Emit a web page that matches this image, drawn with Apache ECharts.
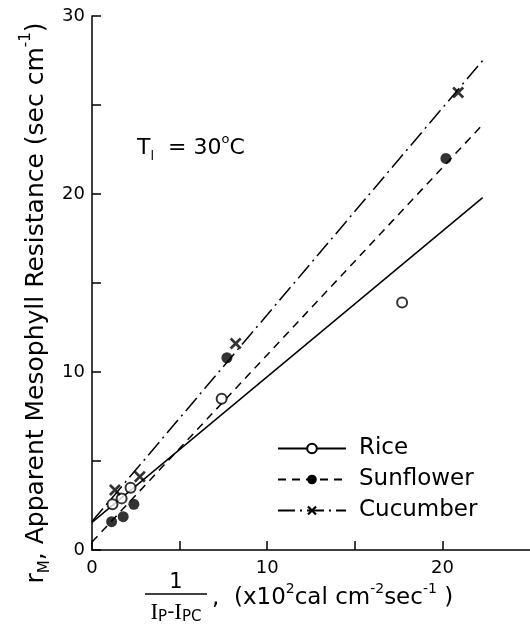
<!DOCTYPE html>
<html><head><meta charset="utf-8">
<script src="https://cdn.jsdelivr.net/npm/echarts@6/dist/echarts.min.js"></script>
<style>html,body{margin:0;padding:0;background:#fff}#c{width:530px;height:629px}</style>
</head><body><div id="c"></div>
<script>
// ---- data ----
const seriesNames = ['Rice', 'Sunflower', 'Cucumber'];
const riceX = [1.17, 1.69, 2.2, 7.4, 17.7];
const riceY = [2.57, 2.9, 3.5, 8.5, 13.9];
const sunX = [1.12, 1.78, 2.39, 7.7, 20.2];
const sunY = [1.59, 1.87, 2.57, 10.8, 22.0];
const cucX = [1.31, 2.73, 8.2, 20.9];
const cucY = [3.37, 4.12, 11.6, 25.7];
// fitted lines: endpoints
const fitX = [0, 22.3];
const riceFitY = [1.55, 19.8];
const sunFitY = [0.45, 23.9];
const cucFitY = [1.6, 27.5];
const xTicks = [0, 5, 10, 15, 20];
const xTickLabels = [0, 10, 20];
const yTicks = [0, 5, 10, 15, 20, 25, 30];
const yTickLabels = [0, 10, 20, 30];

const FONT = 'DejaVu Sans';
const zip = (a, b) => a.map((v, i) => [v, b[i]]);
const crossPath = 'path://M1.6,0L5,3.4L8.4,0L10,1.6L6.6,5L10,8.4L8.4,10L5,6.6L1.6,10L0,8.4L3.4,5L0,1.6Z';

const chart = echarts.init(document.getElementById('c'), null, {renderer: 'canvas'});
const lineBase = (name, data, type, symbol) => ({
  name, type: 'line', data, symbol, symbolSize: 10, showSymbol: false, silent: true,
  lineStyle: {color: '#000', width: 1.5, type}, itemStyle: {color: '#000'}, z: 2
});
const scatterBase = (data, symbol, size) => ({
  type: 'scatter', data, symbol, symbolSize: size, silent: true,
  itemStyle: {color: '#000', borderWidth: 0}, z: 3
});
const option = {
  animation: false,
  backgroundColor: '#fff',
  grid: {left: 92, top: 16, width: 440, height: 534, containLabel: false},
  xAxis: {
    type: 'value', min: 0, max: 25, interval: 5,
    axisLine: {lineStyle: {color: '#000', width: 1.5}},
    axisTick: {inside: true, length: 9, customValues: xTicks, lineStyle: {color: '#000', width: 1.5}},
    splitLine: {show: false},
    axisLabel: {color: '#000', fontSize: 18, fontFamily: FONT, margin: 9, customValues: xTickLabels}
  },
  yAxis: {
    type: 'value', min: 0, max: 30, interval: 5,
    axisLine: {lineStyle: {color: '#000', width: 1.5}},
    axisTick: {inside: true, length: 9, customValues: yTicks, lineStyle: {color: '#000', width: 1.5}},
    splitLine: {show: false},
    axisLabel: {color: '#000', fontSize: 18, fontFamily: FONT, margin: 7, customValues: yTickLabels}
  },
  legend: {
    orient: 'vertical', left: 272, top: 432, itemWidth: 68, itemHeight: 12, itemGap: 8,
    data: seriesNames,
    textStyle: {color: '#000', fontSize: 23, fontFamily: FONT, padding: [0, 0, 0, 8]},
    selectedMode: false
  },
  series: [
    lineBase('Rice', zip(fitX, riceFitY), 'solid', 'emptyCircle'),
    lineBase('Sunflower', zip(fitX, sunFitY), [8, 6], 'circle'),
    lineBase('Cucumber', zip(fitX, cucFitY), [17, 5, 2, 5], crossPath),
    Object.assign(scatterBase(zip(riceX, riceY), 'emptyCircle', 10), {itemStyle: {color: '#000', borderWidth: 2}}),
    scatterBase(zip(sunX, sunY), 'circle', 11),
    scatterBase(zip(cucX, cucY), crossPath, 12)
  ],
  graphic: [
    { type: 'text', x: 36, y: 303, rotation: Math.PI / 2,
      style: { text: '{t|r}{s|M}{t|, Apparent Mesophyll Resistance (sec cm}{p|-1}{t|)}',
        align: 'center', verticalAlign: 'middle', fill: '#000',
        rich: { t: {fontSize: 25, fontFamily: FONT, lineHeight: 34, fill: '#000'},
                s: {fontSize: 15, fontFamily: FONT, verticalAlign: 'bottom', lineHeight: 15, fill: '#000'},
                p: {fontSize: 15, fontFamily: FONT, verticalAlign: 'top', lineHeight: 15, fill: '#000'} } } },
    { type: 'text', x: 137, y: 148,
      style: { text: '{t|T}{s|l}{t|  = 30}{p|o}{t|C}', align: 'left', verticalAlign: 'middle', fill: '#000',
        rich: { t: {fontSize: 22, fontFamily: FONT, lineHeight: 30, fill: '#000'},
                s: {fontSize: 13, fontFamily: FONT, verticalAlign: 'bottom', lineHeight: 13, fill: '#000'},
                p: {fontSize: 13, fontFamily: FONT, verticalAlign: 'top', lineHeight: 13, fill: '#000'} } } },
    { type: 'text', x: 176, y: 583,
      style: { text: '1', align: 'center', verticalAlign: 'middle', fill: '#000', font: '21px "DejaVu Sans"' } },
    { type: 'line', shape: {x1: 145, y1: 594, x2: 207, y2: 594}, style: {stroke: '#000', lineWidth: 1.5} },
    { type: 'text', x: 176, y: 613,
      style: { text: '{i|I}{s|P}{d|-}{i|I}{s|PC}', align: 'center', verticalAlign: 'middle', fill: '#000',
        rich: { i: {fontSize: 23, fontFamily: 'Liberation Serif', lineHeight: 24, fill: '#000'},
                d: {fontSize: 20, fontFamily: FONT, lineHeight: 24, fill: '#000'},
                s: {fontSize: 15, fontFamily: FONT, verticalAlign: 'bottom', lineHeight: 18, fill: '#000'} } } },
    { type: 'text', x: 212, y: 598,
      style: { text: '{t|,  (x10}{p|2}{t|cal cm}{p|-2}{t|sec}{p|-1}{t| )}', align: 'left', verticalAlign: 'middle', fill: '#000',
        rich: { t: {fontSize: 23, fontFamily: FONT, lineHeight: 32, fill: '#000'},
                p: {fontSize: 14, fontFamily: FONT, verticalAlign: 'top', lineHeight: 14, fill: '#000'} } } }
  ]
};
chart.setOption(option);
</script>
</body></html>
